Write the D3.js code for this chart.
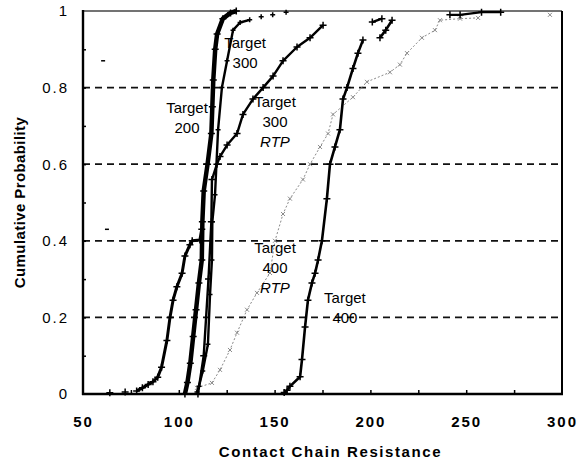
<!DOCTYPE html>
<html>
<head>
<meta charset="utf-8">
<script src="https://cdn.jsdelivr.net/npm/d3@7/dist/d3.min.js"></script>
<style>
  html, body { margin: 0; padding: 0; background: #fff; }
  svg { display: block; font-family: "Liberation Sans", Arial, sans-serif; }
</style>
</head>
<body>
<svg id="chart" width="584" height="461"></svg>
<script>
// Cumulative distributions of contact chain resistance per process target.
// Each series: resistance values (x) and cumulative probability (p).

const xTicks = [50, 100, 150, 200, 250, 300];
const xTickLabels = ["50", "100", "150", "200", "250", "300"];
const yTicks = [0, 0.2, 0.4, 0.6, 0.8, 1];
const yTickLabels = ["0", "0.2", "0.4", "0.6", "0.8", "1"];
const gridLevels = [0.2, 0.4, 0.6, 0.8];

// leftmost distribution (low tail, merges into the Target 200 column near 0.4)
const lowX = [64, 72, 78, 81, 84, 86.5, 89, 91, 93.8, 95.4, 97, 99, 101.7, 103.2, 105.8, 107, 111, 112];
const lowP = [0.003, 0.005, 0.008, 0.016, 0.025, 0.032, 0.044, 0.07, 0.14, 0.2, 0.245, 0.28, 0.315, 0.36, 0.39, 0.40, 0.402, 0.43];

// Target 200
const t200X = [103.2, 104.5, 106, 107.5, 109, 110.5, 112, 112.3, 113, 115, 117, 117.5, 118, 119, 120, 123, 127, 130];
const t200P = [0, 0.03, 0.08, 0.15, 0.22, 0.29, 0.35, 0.45, 0.53, 0.6, 0.68, 0.75, 0.82, 0.9, 0.94, 0.98, 0.995, 1.0];

// Target 300
const t300X = [109.5, 110.5, 112.5, 115.2, 116.3, 117.3, 117.5, 118.9, 120.5, 122.5, 125.2, 128.3, 132, 137, 143, 149, 156];
const t300P = [0.005, 0.02, 0.06, 0.13, 0.26, 0.35, 0.45, 0.52, 0.69, 0.80, 0.87, 0.95, 0.97, 0.977, 0.985, 0.99, 0.997];

// Target 300 RTP
const t300rX = [110, 113, 115.5, 117, 117.3, 119.9, 121.5, 125.2, 130.4, 133.5, 138.7, 144, 149.2, 154.4, 161.7, 168.5, 175.3, 201, 206, 241.5, 246.8, 258, 268];
const t300rP = [0, 0.1, 0.3, 0.45, 0.56, 0.6, 0.62, 0.65, 0.68, 0.73, 0.77, 0.80, 0.83, 0.87, 0.906, 0.93, 0.963, 0.971, 0.98, 0.99, 0.99, 0.997, 0.997];

// Target 400 RTP
const t400rX = [109.5, 117.3, 121.5, 126.7, 130.4, 135.6, 140.8, 147.6, 150.2, 154.4, 158, 164.8, 168.5, 173.7, 177.9, 180.5, 190.9, 198.2, 210.2, 215.4, 219.1, 226.9, 233.7, 236.3, 246.8, 256.2, 293.7];
const t400rP = [0.016, 0.029, 0.063, 0.115, 0.16, 0.22, 0.264, 0.316, 0.40, 0.47, 0.51, 0.56, 0.60, 0.645, 0.68, 0.73, 0.775, 0.815, 0.84, 0.86, 0.89, 0.93, 0.95, 0.976, 0.98, 0.982, 0.99];

// Target 400
const t400X = [155, 156.5, 158, 163.3, 164.3, 165.9, 167.4, 169.5, 171.1, 172.7, 174.7, 177.3, 178.9, 181.5, 184.1, 185.7, 187.8, 190.9, 193.5, 196.1, 205, 208, 211.3];
const t400P = [0.004, 0.01, 0.02, 0.045, 0.09, 0.175, 0.245, 0.29, 0.315, 0.35, 0.40, 0.51, 0.60, 0.645, 0.69, 0.77, 0.80, 0.85, 0.89, 0.924, 0.93, 0.95, 0.976];

// isolated readings near the left axis
const strayX = [60.5, 62.5];
const strayP = [0.87, 0.43];

// curve annotations: anchor (value, probability) of the first line
const labelLines = [["Target", "200"], ["Target", "300"], ["Target", "300", "RTP"], ["Target", "400", "RTP"], ["Target", "400"]];
const labelX = [104.3, 134.6, 150.2, 150.2, 186.7];
const labelP = [0.734, 0.903, 0.749, 0.368, 0.238];

const margin = { left: 83, right: 22, top: 11, bottom: 67 };
const W = 584, H = 461;
const x = d3.scaleLinear().domain([50, 300]).range([margin.left, W - margin.right]);
const y = d3.scaleLinear().domain([0, 1]).range([H - margin.bottom, margin.top]);

const svg = d3.select("#chart");
const zip = (xs, ps) => xs.map((v, i) => ({ x: v, p: ps[i] }));

// dashed horizontal reference lines
svg.append("g").selectAll("line").data(gridLevels).join("line")
  .attr("x1", x(50)).attr("x2", x(300))
  .attr("y1", d => y(d)).attr("y2", d => y(d))
  .attr("stroke", "#111").attr("stroke-width", 1.8)
  .attr("stroke-dasharray", "7,5");

// minor inward ticks
svg.append("g").attr("transform", `translate(0,${y(0)})`)
  .call(d3.axisBottom(x).tickValues(d3.range(75, 300, 25)).tickSize(-4).tickFormat(""))
  .call(g => g.select(".domain").remove())
  .call(g => g.selectAll("line").attr("stroke", "#000").attr("stroke-width", 1.5));
svg.append("g").attr("transform", `translate(${x(50)},0)`)
  .call(d3.axisLeft(y).tickValues(d3.range(0.1, 1, 0.1)).tickSize(-3).tickFormat(""))
  .call(g => g.select(".domain").remove())
  .call(g => g.selectAll("line").attr("stroke", "#000").attr("stroke-width", 1.5));

// frame
const frame = svg.append("g").attr("fill", "none");
frame.append("line").attr("x1", x(50)).attr("x2", x(300)).attr("y1", y(1)).attr("y2", y(1))
  .attr("stroke", "#444").attr("stroke-width", 1.5);
frame.append("line").attr("x1", x(300)).attr("x2", x(300)).attr("y1", y(1)).attr("y2", y(0))
  .attr("stroke", "#000").attr("stroke-width", 2);
frame.append("line").attr("x1", x(50)).attr("x2", x(50)).attr("y1", y(1) - 1).attr("y2", y(0) + 1)
  .attr("stroke", "#000").attr("stroke-width", 2.4);
frame.append("line").attr("x1", x(50) - 1).attr("x2", x(300) + 1).attr("y1", y(0)).attr("y2", y(0))
  .attr("stroke", "#000").attr("stroke-width", 2.4);

// tick labels
svg.append("g").attr("transform", `translate(0,${y(0)})`)
  .call(d3.axisBottom(x).tickValues(xTicks).tickSize(0).tickPadding(22)
    .tickFormat((d, i) => xTickLabels[i]))
  .call(g => g.select(".domain").remove())
  .call(g => g.selectAll("text").attr("fill", "#000").attr("font-size", 15)
    .attr("font-weight", "bold").attr("letter-spacing", "2px")
    .attr("font-family", "'Liberation Sans', Arial, sans-serif"));
svg.append("g").attr("transform", `translate(${x(50)},0)`)
  .call(d3.axisLeft(y).tickValues(yTicks).tickSize(0).tickPadding(14)
    .tickFormat((d, i) => yTickLabels[i]))
  .call(g => g.select(".domain").remove())
  .call(g => g.selectAll("text").attr("fill", "#000").attr("font-size", 15)
    .attr("letter-spacing", "2px")
    .attr("font-family", "'Liberation Sans', Arial, sans-serif"));

// axis titles
svg.append("text")
  .attr("x", (x(50) + x(300)) / 2 + 8).attr("y", 457)
  .attr("text-anchor", "middle").attr("font-size", 15).attr("font-weight", "bold")
  .attr("letter-spacing", "1.6px")
  .text("Contact Chain Resistance");
svg.append("text")
  .attr("transform", `translate(25,${(y(0) + y(1)) / 2}) rotate(-90)`)
  .attr("text-anchor", "middle").attr("font-size", 15).attr("font-weight", "bold")
  .attr("letter-spacing", "0.4px")
  .text("Cumulative Probability");

// draws a series as joined segments (skipping wide gaps) plus point markers
function drawSeries(xs, ps, opt) {
  const pts = zip(xs, ps);
  const segs = [];
  let cur = [pts[0]];
  for (let i = 1; i < pts.length; i++) {
    if (pts[i].x - pts[i - 1].x > opt.gap) { segs.push(cur); cur = []; }
    cur.push(pts[i]);
  }
  segs.push(cur);
  const line = d3.line().x(d => x(d.x)).y(d => y(d.p));
  const g = svg.append("g");
  g.selectAll("path.seg").data(segs.filter(s => s.length > 1)).join("path")
    .attr("class", "seg")
    .attr("d", line).attr("fill", "none")
    .attr("stroke", opt.color).attr("stroke-width", opt.width)
    .attr("stroke-dasharray", opt.dash || null)
    .attr("stroke-linejoin", "round");
  const s = opt.size;
  const shape = opt.marker === "x"
    ? `M${-s},${-s}L${s},${s}M${-s},${s}L${s},${-s}`
    : `M${-s},0H${s}M0,${-s}V${s}`;
  g.selectAll("path.mk").data(pts).join("path")
    .attr("class", "mk")
    .attr("transform", d => `translate(${x(d.x)},${y(d.p)})`)
    .attr("d", shape).attr("fill", "none")
    .attr("stroke", opt.color).attr("stroke-width", opt.mw);
}

drawSeries(t400rX, t400rP, { color: "#8a8a8a", width: 1, dash: "2,2", gap: 30, marker: "x", size: 2, mw: 1 });
drawSeries(lowX, lowP, { color: "#000", width: 3, gap: 5, marker: "+", size: 3.5, mw: 1.5 });
drawSeries(t200X, t200P, { color: "#000", width: 4.5, gap: 20, marker: "+", size: 3.5, mw: 1.5 });
drawSeries(t300X, t300P, { color: "#000", width: 2.4, gap: 5.5, marker: "+", size: 2.5, mw: 1.5 });
drawSeries(t300rX, t300rP, { color: "#000", width: 2.4, gap: 15, marker: "+", size: 3.5, mw: 1.5 });
drawSeries(t400X, t400P, { color: "#000", width: 2.6, gap: 8, marker: "+", size: 3.5, mw: 1.5 });

svg.append("g").selectAll("line").data(zip(strayX, strayP)).join("line")
  .attr("x1", d => x(d.x) - 2).attr("x2", d => x(d.x) + 2)
  .attr("y1", d => y(d.p)).attr("y2", d => y(d.p))
  .attr("stroke", "#000").attr("stroke-width", 1.5);

// curve annotations
const lab = svg.append("g").attr("font-size", 15).attr("text-anchor", "middle").attr("fill", "#000");
labelLines.forEach((lines, i) => {
  const t = lab.append("text").attr("x", x(labelX[i])).attr("y", y(labelP[i]));
  lines.forEach((s, j) => {
    t.append("tspan").attr("x", x(labelX[i])).attr("dy", j === 0 ? 0 : 20)
      .attr("font-style", s === "RTP" ? "italic" : null)
      .text(s);
  });
});
</script>
</body>
</html>
